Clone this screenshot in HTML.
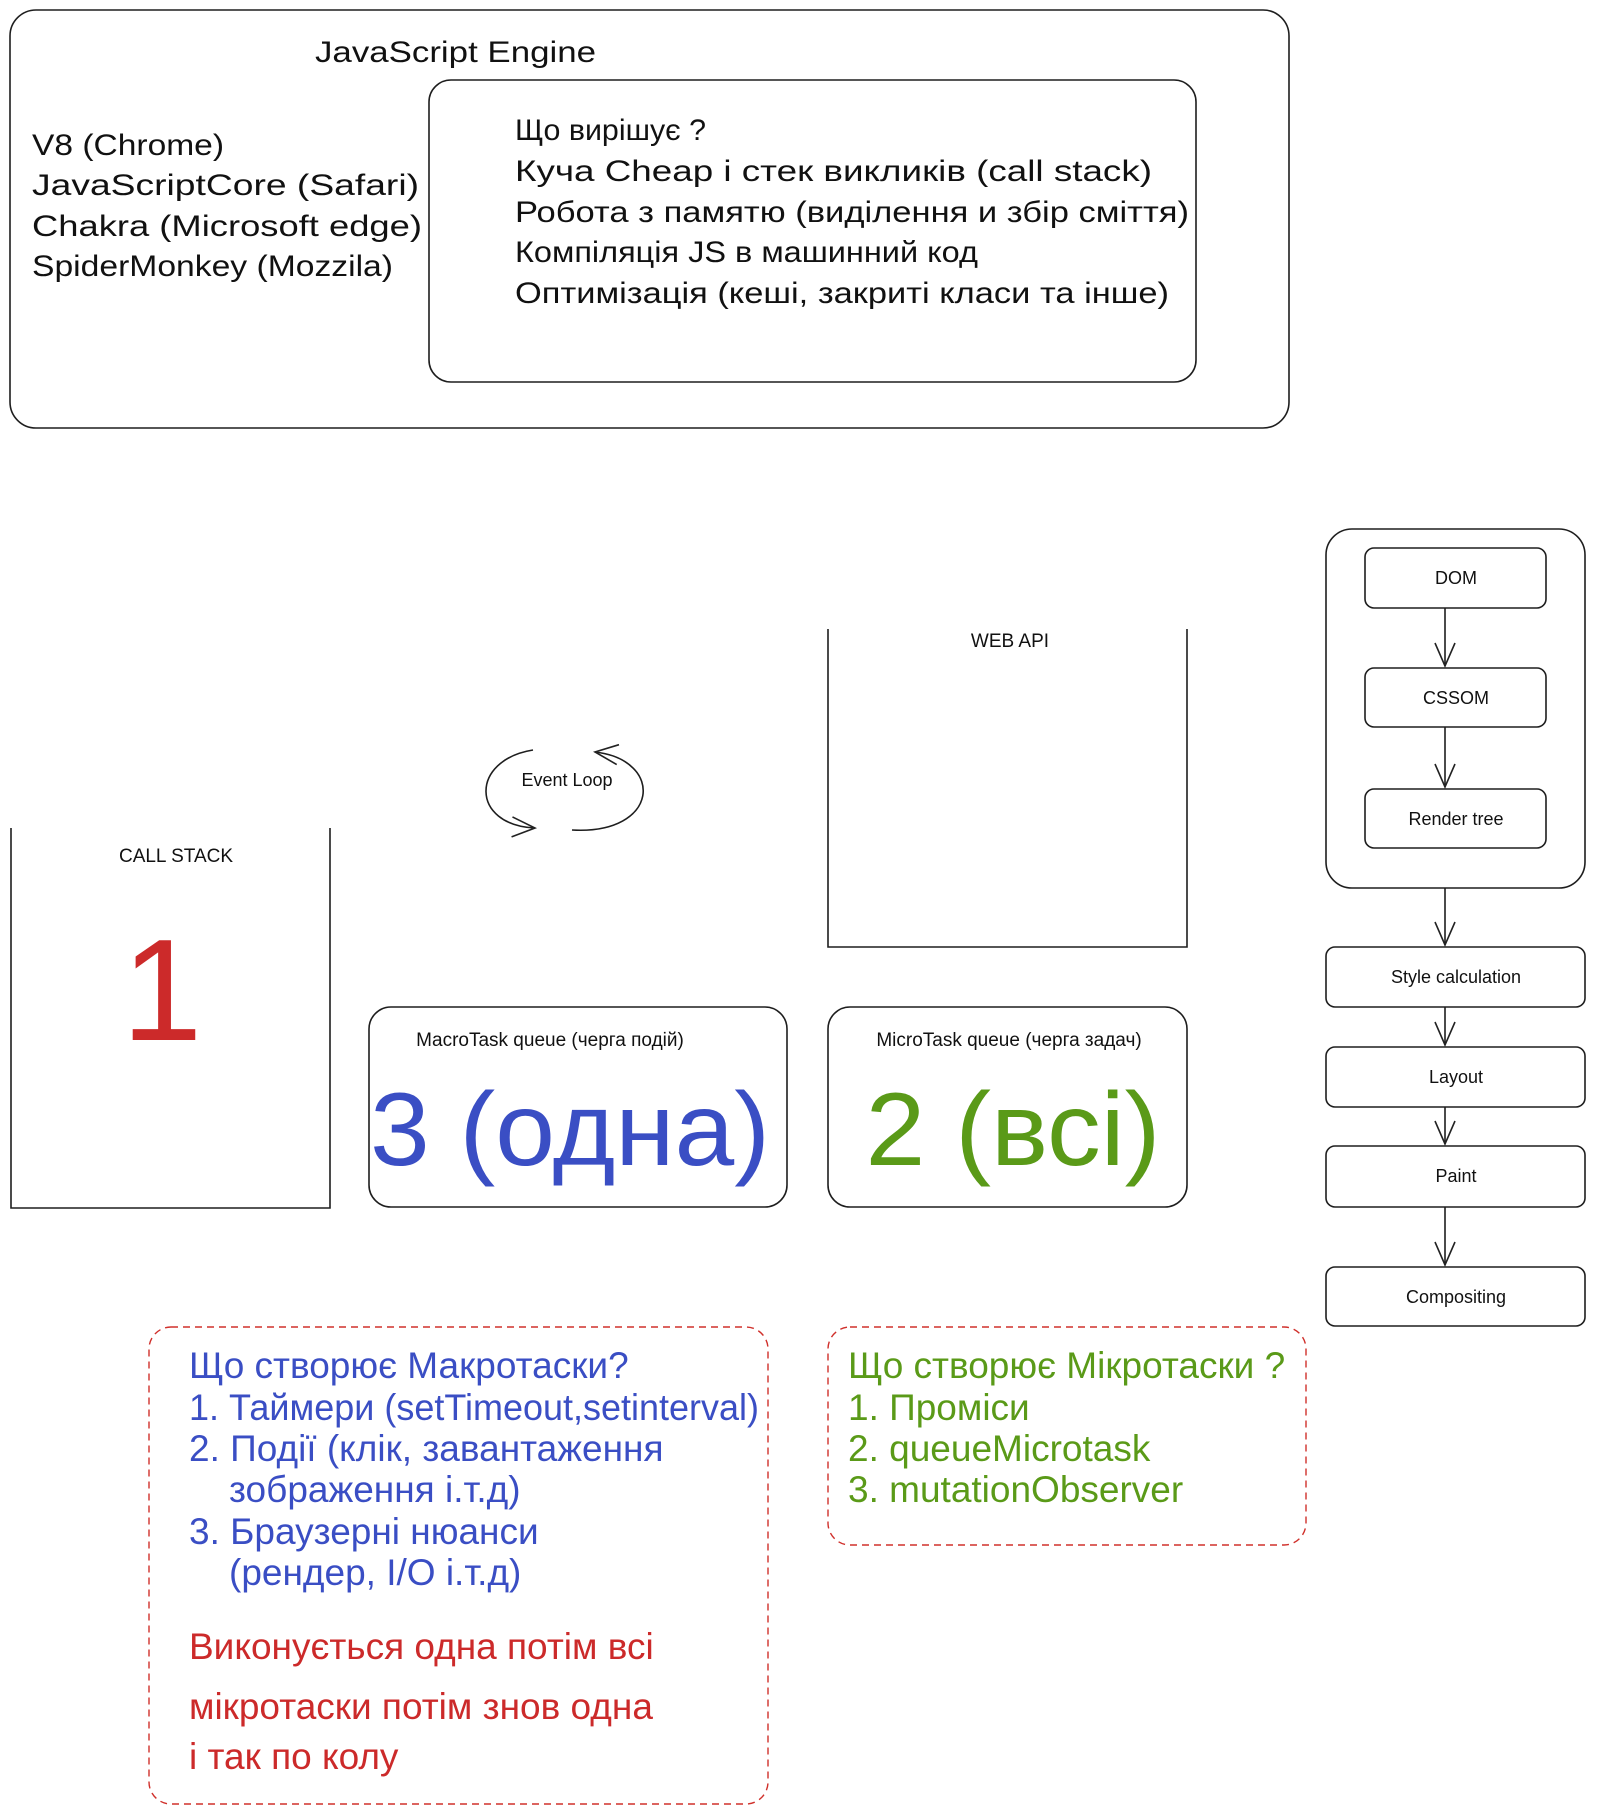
<!DOCTYPE html>
<html><head><meta charset="utf-8"><style>
html,body{margin:0;padding:0;background:#fff;}
svg{display:block}
text{font-family:"Liberation Sans",sans-serif;}
.h{font-family:"Liberation Sans Narrow","Liberation Sans",sans-serif;fill:#111}
</style></head><body>
<svg width="1600" height="1820" viewBox="0 0 1600 1820" xmlns="http://www.w3.org/2000/svg">
<defs>
<marker id="ar" markerWidth="30" markerHeight="30" refX="24" refY="12" orient="auto" markerUnits="userSpaceOnUse">
<path d="M1,2 L24,12 L1,22" fill="none" stroke="#222" stroke-width="1.6"/>
</marker>
</defs>
<g fill="none" stroke="#1e1e1e" stroke-width="1.6">
<rect x="10" y="10" width="1279" height="418" rx="26"/>
<rect x="429" y="80" width="767" height="302" rx="22"/>
<path d="M828,629 L828,947 L1187,947 L1187,629"/>
<path d="M11,828 L11,1208 L330,1208 L330,828"/>
<rect x="369" y="1007" width="418" height="200" rx="22"/>
<rect x="828" y="1007" width="359" height="200" rx="22"/>
<rect x="1326" y="529" width="259" height="359" rx="26"/>
<rect x="1365" y="548" width="181" height="60" rx="9"/>
<rect x="1365" y="668" width="181" height="59" rx="9"/>
<rect x="1365" y="789" width="181" height="59" rx="9"/>
<rect x="1326" y="947" width="259" height="60" rx="9"/>
<rect x="1326" y="1047" width="259" height="60" rx="9"/>
<rect x="1326" y="1146" width="259" height="61" rx="9"/>
<rect x="1326" y="1267" width="259" height="59" rx="9"/>
<path d="M1445,608 L1445,666" marker-end="url(#ar)"/>
<path d="M1445,727 L1445,787" marker-end="url(#ar)"/>
<path d="M1445,888 L1445,945" marker-end="url(#ar)"/>
<path d="M1445,1007 L1445,1045" marker-end="url(#ar)"/>
<path d="M1445,1107 L1445,1144" marker-end="url(#ar)"/>
<path d="M1445,1207 L1445,1265" marker-end="url(#ar)"/>
<path d="M533,750 C470,760 470,825 535,828" marker-end="url(#ar)"/>
<path d="M572,830 C660,835 665,760 595,752" marker-end="url(#ar)"/>
</g>
<g fill="none" stroke="#d0302b" stroke-width="1.4" stroke-dasharray="7,5">
<rect x="149" y="1327" width="619" height="477" rx="22"/>
<rect x="828" y="1327" width="478" height="218" rx="22"/>
</g>
<g class="h" font-size="30">
<text x="315" y="62" textLength="281" lengthAdjust="spacingAndGlyphs">JavaScript Engine</text>
<text x="32" y="155" textLength="192" lengthAdjust="spacingAndGlyphs">V8 (Chrome)</text>
<text x="32" y="195" textLength="387" lengthAdjust="spacingAndGlyphs">JavaScriptCore (Safari)</text>
<text x="32" y="236" textLength="390" lengthAdjust="spacingAndGlyphs">Chakra (Microsoft edge)</text>
<text x="32" y="276" textLength="361" lengthAdjust="spacingAndGlyphs">SpiderMonkey (Mozzila)</text>
<text x="515" y="140" textLength="191" lengthAdjust="spacingAndGlyphs">Що вирішує ?</text>
<text x="515" y="181" textLength="637" lengthAdjust="spacingAndGlyphs">Куча Cheap і стек викликів (call stack)</text>
<text x="515" y="222" textLength="674" lengthAdjust="spacingAndGlyphs">Робота з памятю (виділення и збір сміття)</text>
<text x="515" y="262" textLength="463" lengthAdjust="spacingAndGlyphs">Компіляція JS в машинний код</text>
<text x="515" y="303" textLength="654" lengthAdjust="spacingAndGlyphs">Оптимізація (кеші, закриті класи та інше)</text>
</g>
<g class="h" font-size="18" text-anchor="middle">
<text x="567" y="786">Event Loop</text>
<text x="1456" y="584">DOM</text>
<text x="1456" y="704">CSSOM</text>
<text x="1456" y="825">Render tree</text>
<text x="1456" y="983">Style calculation</text>
<text x="1456" y="1083">Layout</text>
<text x="1456" y="1182">Paint</text>
<text x="1456" y="1303">Compositing</text>
</g>
<g font-size="19" fill="#111" text-anchor="middle">
<text x="1010" y="647">WEB API</text>
<text x="176" y="862">CALL STACK</text>
<text x="550" y="1046">MacroTask queue (черга подій)</text>
<text x="1009" y="1046">MicroTask queue (черга задач)</text>
</g>
<text x="162" y="1040" font-size="145" fill="#cc2a2a" text-anchor="middle">1</text>
<text x="570" y="1165" font-size="104" fill="#3a4ec4" text-anchor="middle" textLength="400" lengthAdjust="spacingAndGlyphs">3 (одна)</text>
<text x="1013" y="1165" font-size="104" fill="#5a9a18" text-anchor="middle" textLength="295" lengthAdjust="spacingAndGlyphs">2 (всі)</text>
<g font-size="37" fill="#3a4ec4">
<text x="189" y="1378">Що створює Макротаски?</text>
<text x="189" y="1420" textLength="570" lengthAdjust="spacingAndGlyphs">1. Таймери (setTimeout,setinterval)</text>
<text x="189" y="1461">2. Події (клік, завантаження</text>
<text x="229" y="1502">зображення і.т.д)</text>
<text x="189" y="1544">3. Браузерні нюанси</text>
<text x="229" y="1585">(рендер, I/O і.т.д)</text>
</g>
<g font-size="37" fill="#cc2a2a">
<text x="189" y="1659">Виконується одна потім всі</text>
<text x="189" y="1719">мікротаски потім знов одна</text>
<text x="189" y="1769">і так по колу</text>
</g>
<g font-size="37" fill="#5a9a18">
<text x="848" y="1378">Що створює Мікротаски ?</text>
<text x="848" y="1420">1. Проміси</text>
<text x="848" y="1461">2. queueMicrotask</text>
<text x="848" y="1502">3. mutationObserver</text>
</g>
</svg>
</body></html>
